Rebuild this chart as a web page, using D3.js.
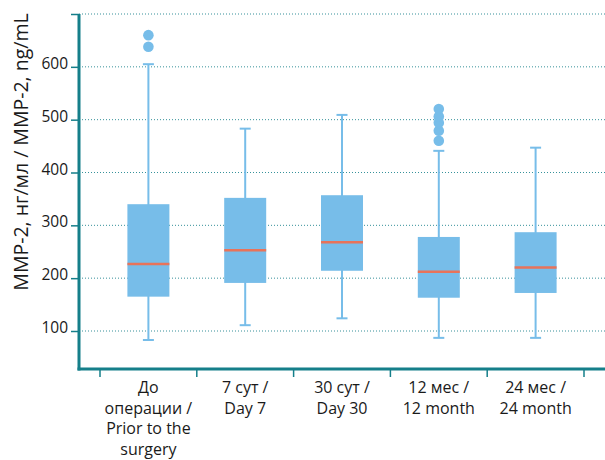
<!DOCTYPE html>
<html><head><meta charset="utf-8">
<script src="https://cdn.jsdelivr.net/npm/d3@7"></script>
<style>body{margin:0;background:#fff}svg{display:block}text{font-family:"Open Sans",sans-serif;fill:#1a1a1a}</style>
</head><body><svg id="c" width="605" height="460"></svg>
<script>
const categories = [["До","операции /","Prior to the","surgery"],["7 сут /","Day 7"],["30 сут /","Day 30"],["12 мес /","12 month"],["24 мес /","24 month"]];
const whiskerLow  = [83, 111, 124, 87, 87];
const q1          = [165, 191, 214, 163, 172];
const median      = [227, 253, 268, 212, 220];
const q3          = [340, 352, 357, 278, 287];
const whiskerHigh = [605, 483, 509, 441, 447];
const outliers    = [[638, 660], [], [], [460, 479, 494, 506, 520], []];
const yTicks = [100, 200, 300, 400, 500, 600, 700];
const yTickLabels = ["100","200","300","400","500","600",""];
const yTitle = "MMP-2, нг/мл / MMP-2, ng/mL";

const svg = d3.select("#c");
const left = 79, right = 605, bottom = 369;
const y = d3.scaleLinear().domain([100, 700]).range([331, 14]);
const x = d3.scaleBand().domain(d3.range(categories.length)).range([100, 584]).paddingInner(0).paddingOuter(0);
const teal = "#157f8a", boxC = "#77bde9", medC = "#e8735a";

// gridlines
svg.append("g").selectAll("line").data(yTicks).join("line")
  .attr("x1", left).attr("x2", right).attr("y1", d => y(d)).attr("y2", d => y(d))
  .attr("stroke", teal).attr("stroke-width", 1).attr("stroke-dasharray", "1,2").attr("opacity", 0.85);

// y axis
const ya = svg.append("g").attr("transform", `translate(${left},0)`)
  .call(d3.axisLeft(y).tickValues(yTicks).tickFormat((d, i) => yTickLabels[i]).tickSize(8).tickPadding(3));
ya.select(".domain").remove();
ya.selectAll(".tick line").attr("stroke", teal).attr("stroke-width", 1.5);
ya.selectAll(".tick text").attr("font-size", 15.5).attr("fill", "#1a1a1a").attr("dy", "0.1em");
svg.append("line").attr("x1", left).attr("x2", left).attr("y1", y(700)).attr("y2", bottom + 1.5)
  .attr("stroke", teal).attr("stroke-width", 3);

// x axis
const xa = svg.append("g").attr("transform", `translate(0,${bottom})`)
  .call(d3.axisBottom(x).tickSize(0).tickFormat(""));
xa.select(".domain").remove();
const bounds = d3.range(categories.length + 1).map(i => x.range()[0] + i * x.bandwidth());
svg.append("g").selectAll("line").data(bounds).join("line")
  .attr("x1", d => d).attr("x2", d => d).attr("y1", bottom).attr("y2", bottom + 8)
  .attr("stroke", teal).attr("stroke-width", 1.5);
svg.append("line").attr("x1", left - 1.5).attr("x2", right).attr("y1", bottom).attr("y2", bottom)
  .attr("stroke", teal).attr("stroke-width", 3);

// category labels
categories.forEach((lines, i) => {
  const t = svg.append("text").attr("text-anchor", "middle").attr("font-size", 16)
    .attr("x", x(i) + x.bandwidth() / 2).attr("y", 393);
  lines.forEach((l, j) => t.append("tspan").attr("x", x(i) + x.bandwidth() / 2).attr("dy", j ? 20.7 : 0).text(l));
});

// boxes
const bw = 42, cap = 11;
categories.forEach((c, i) => {
  const cx = x(i) + x.bandwidth() / 2;
  const g = svg.append("g");
  g.append("line").attr("x1", cx).attr("x2", cx).attr("y1", y(whiskerLow[i])).attr("y2", y(whiskerHigh[i]))
    .attr("stroke", boxC).attr("stroke-width", 2);
  [whiskerLow[i], whiskerHigh[i]].forEach(v => g.append("line").attr("x1", cx - cap / 2).attr("x2", cx + cap / 2)
    .attr("y1", y(v)).attr("y2", y(v)).attr("stroke", boxC).attr("stroke-width", 2));
  g.append("rect").attr("x", cx - bw / 2).attr("width", bw).attr("y", y(q3[i])).attr("height", y(q1[i]) - y(q3[i]))
    .attr("fill", boxC);
  g.append("line").attr("x1", cx - bw / 2).attr("x2", cx + bw / 2).attr("y1", y(median[i])).attr("y2", y(median[i]))
    .attr("stroke", medC).attr("stroke-width", 2.5);
  g.selectAll("circle").data(outliers[i]).join("circle").attr("cx", cx).attr("cy", d => y(d)).attr("r", 5.3)
    .attr("fill", boxC);
});

// y title
svg.append("text").attr("transform", "translate(28,152) rotate(-90)").attr("text-anchor", "middle")
  .attr("font-size", 19.5).text(yTitle);
</script></body></html>
